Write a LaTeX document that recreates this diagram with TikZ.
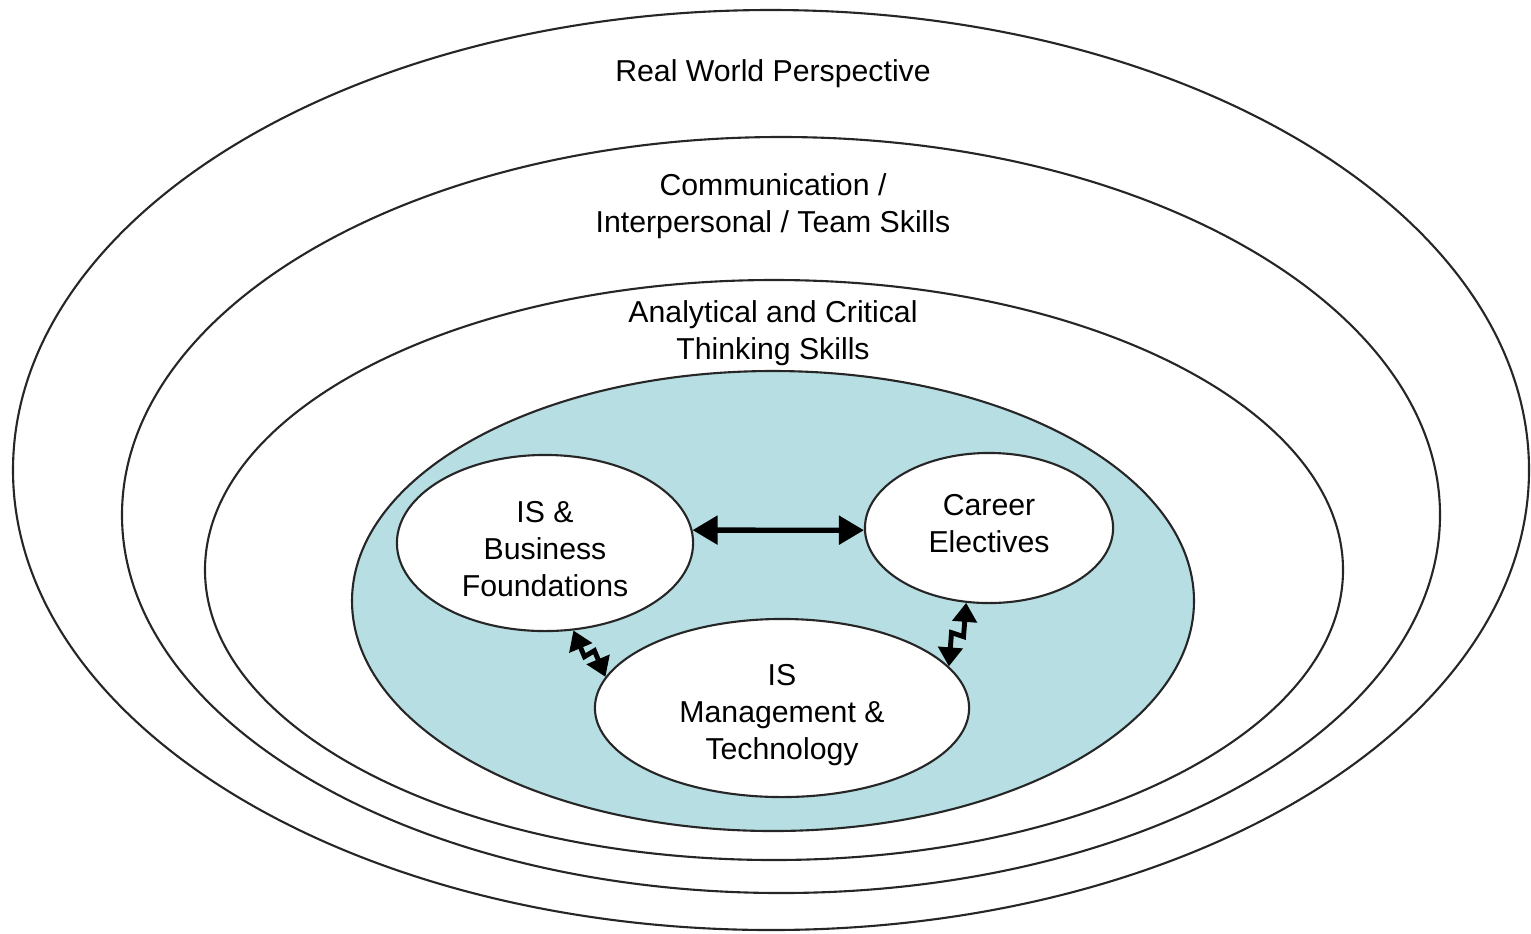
\documentclass[tikz,border=0pt]{standalone}
\usepackage{fontspec}
\setmainfont{Liberation Sans}
\usetikzlibrary{shapes.geometric}
\usetikzlibrary{arrows.meta, positioning, calc}
\usepackage{xcolor}
\definecolor{ringteal}{RGB}{183,222,226}

\begin{document}
\begin{tikzpicture}[x=0.01cm, y=-0.01cm,
    ring/.style={draw=black!85, line width=0.6pt},
    ringtext/.style={font=\fontsize{8.6}{10.5}\selectfont, align=center,
        inner sep=0pt},
    area/.style={ellipse, draw=black!85, line width=0.6pt, fill=white,
        inner sep=0pt},
    link/.style={{Triangle[length=2.5mm,width=2.8mm]}-{Triangle[length=2.5mm,width=2.8mm]},
        line width=1.5pt},
    jump/.style={{Triangle[length=1.9mm,width=2.4mm]}-{Triangle[length=1.9mm,width=2.4mm]},
        line width=1.4pt, line join=miter}]
    \useasboundingbox (0,0) rectangle (1531,933);

    % skill rings
    \draw[ring] (771,470) ellipse (758 and 460);
    \draw[ring] (781,515) ellipse (659 and 378);
    \draw[ring] (774,570) ellipse (569 and 290);
    \draw[ring, fill=ringteal] (773,601) ellipse (421 and 230);

    \node[ringtext] (real) at (773,74) {Real World Perspective};
    \node[ringtext] (comm) at (773,206) {Communication /\\Interpersonal / Team Skills};
    \node[ringtext] (anal) at (773,333) {Analytical and Critical\\Thinking Skills};

    % core areas
    \node[area, minimum width=2.96cm, minimum height=1.76cm,
        label={[ringtext, yshift=-0.06cm]center:{IS \&\\Business\\Foundations}}]
        (isb) at (545,543) {};
    \node[area, minimum width=2.48cm, minimum height=1.50cm,
        label={[ringtext, yshift=0.04cm]center:{Career\\Electives}}]
        (car) at (989,528) {};
    \node[area, minimum width=3.74cm, minimum height=1.78cm,
        label={[ringtext, yshift=-0.07cm]center:{IS\\Management \&\\Technology}}]
        (mgmt) at (782,708) {};

    \draw[link] (isb.5) -- (car.181);
    \draw[jump] (isb.-72) -- ($(isb.-72)!0.5!(mgmt.170)+(-5,3)$)
        -- ($(isb.-72)!0.5!(mgmt.170)+(5,-3)$) -- (mgmt.170);
    \draw[jump] (car.253) -- ($(car.253)!0.5!(mgmt.14)+(6,2)$)
        -- ($(car.253)!0.5!(mgmt.14)+(-6,-2)$) -- (mgmt.14);

\end{tikzpicture}
\end{document}
